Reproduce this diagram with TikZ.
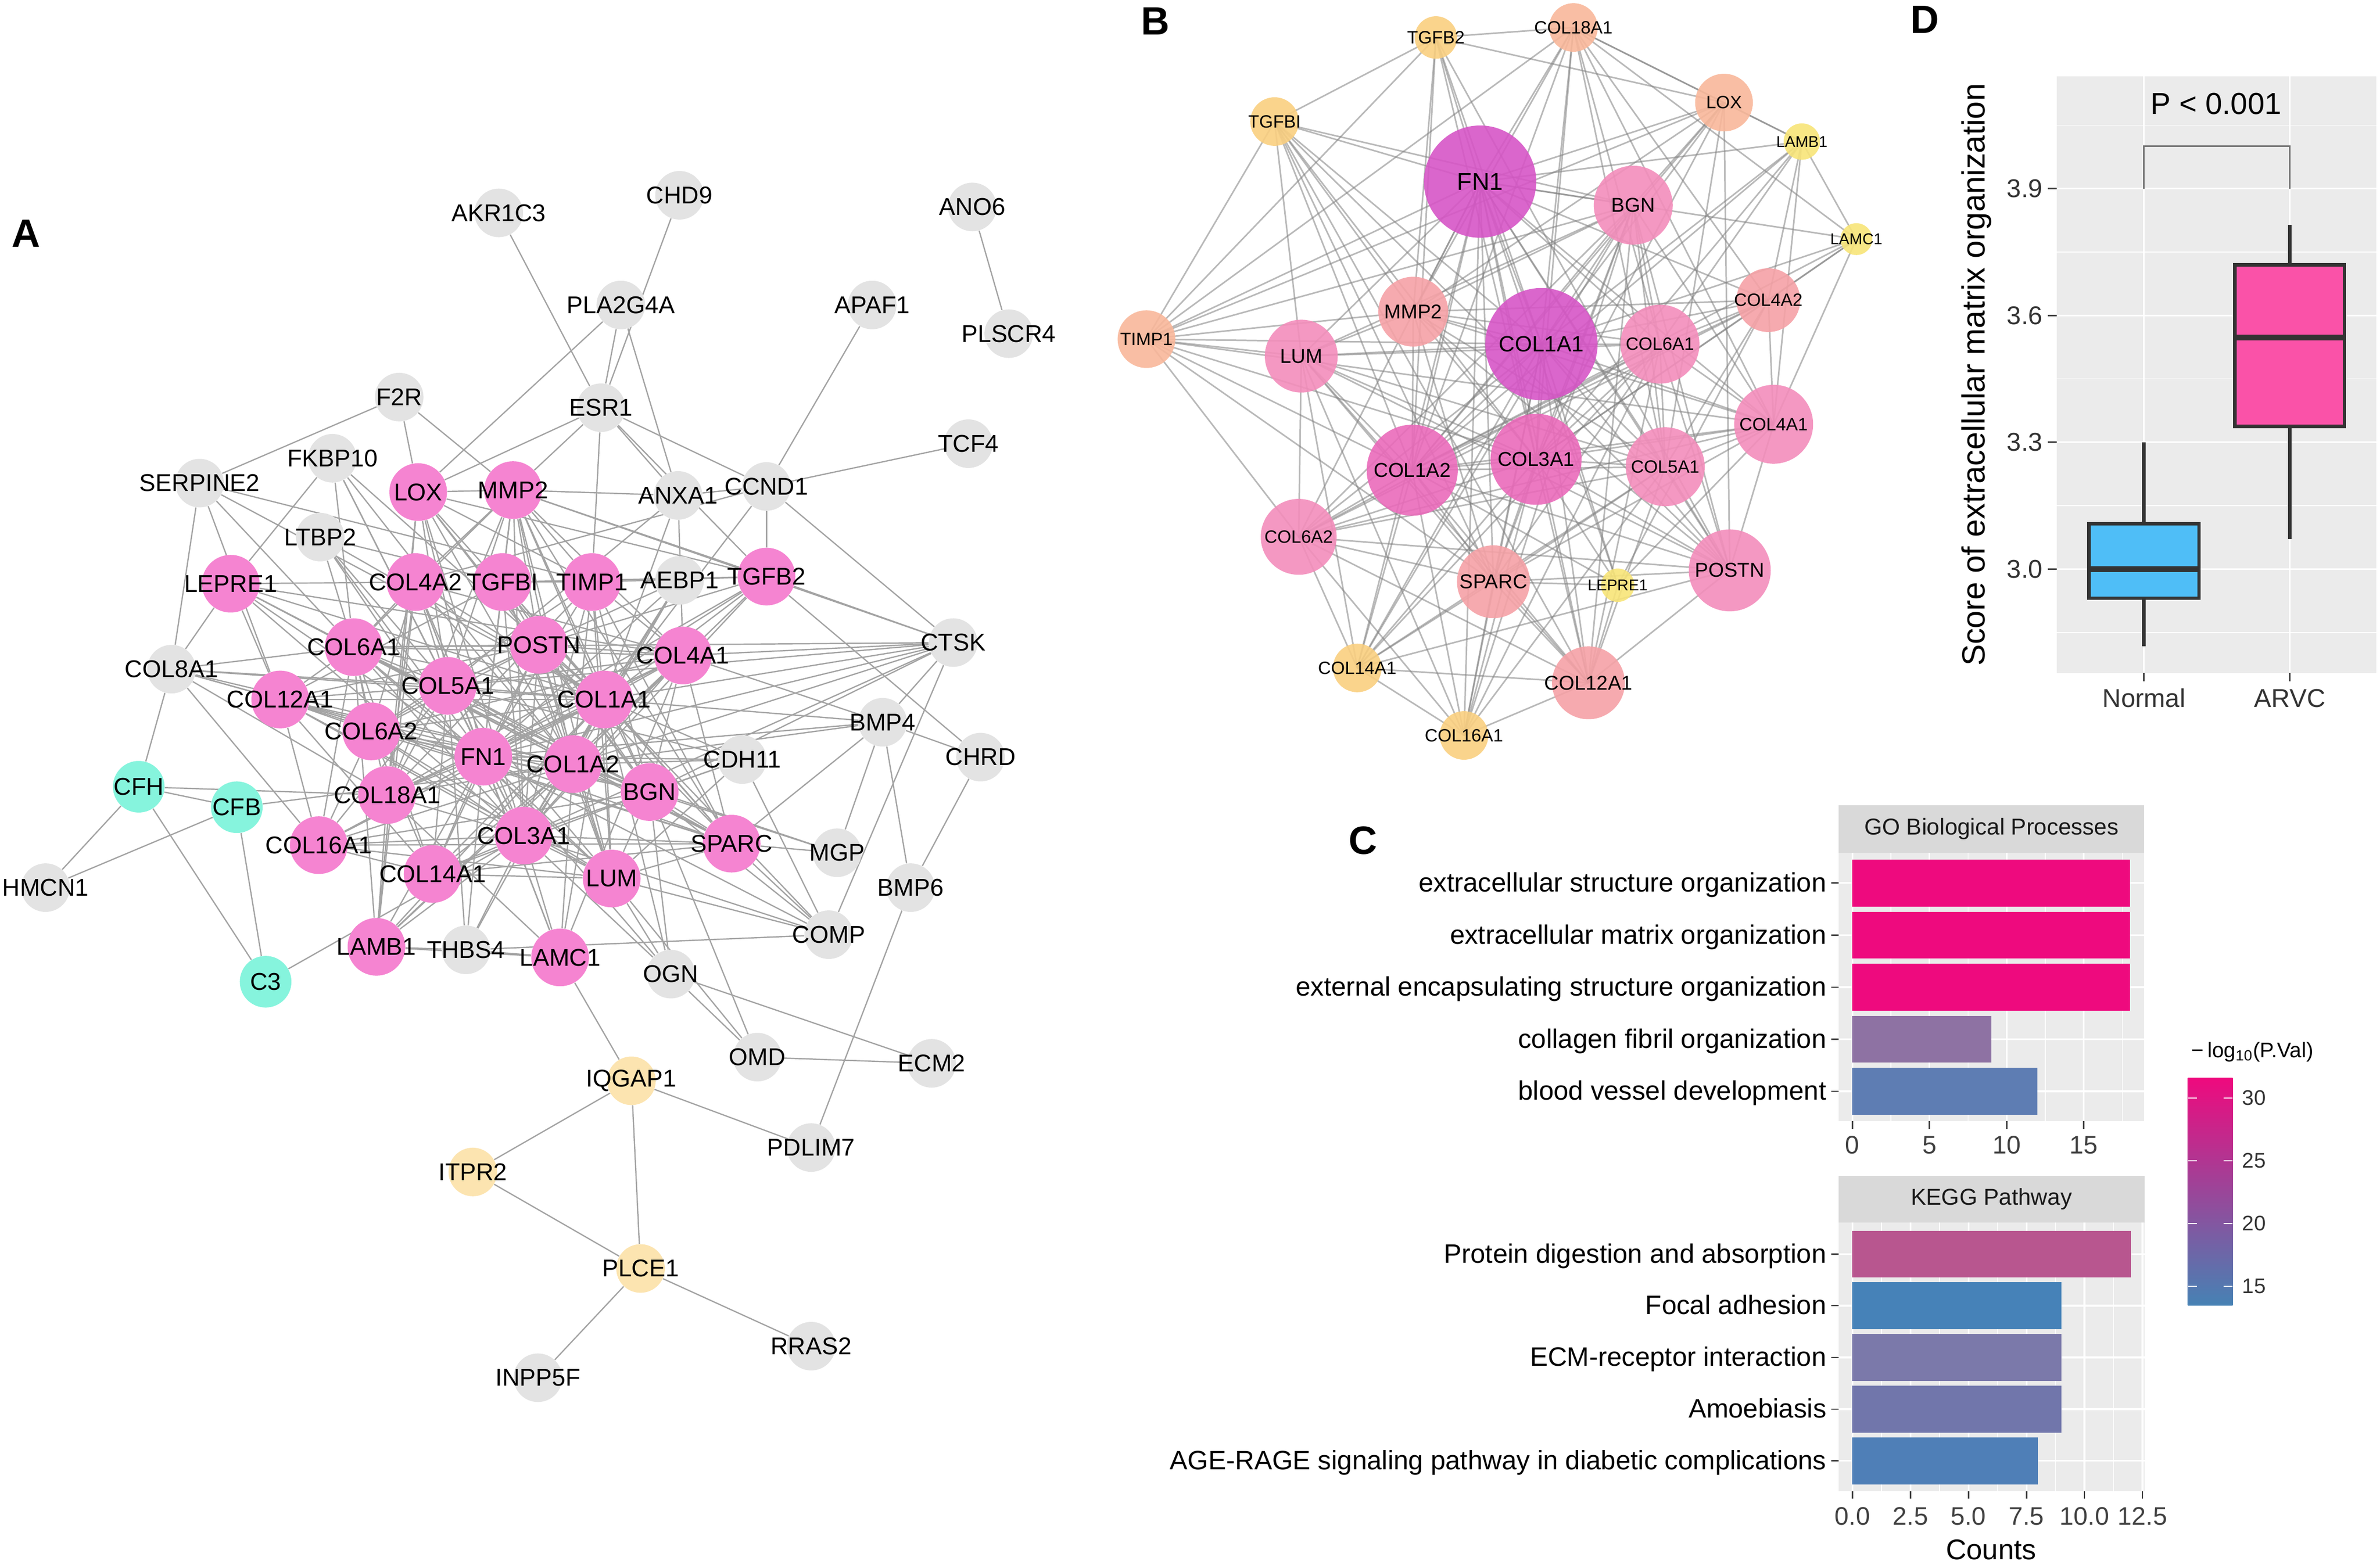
\documentclass[tikz,border=0pt]{standalone}
\usepackage{fontspec}
\setmainfont{Liberation Sans}
\usetikzlibrary{backgrounds}

% node colours
\definecolor{agray}{HTML}{E3E3E3}
\definecolor{apink}{HTML}{F584D1}
\definecolor{acyan}{HTML}{86F4DD}
\definecolor{apeach}{HTML}{FCE4B0}
\definecolor{bmag}{HTML}{D655C6}
\definecolor{bhot}{HTML}{EA6ABA}
\definecolor{bpink}{HTML}{F38DBB}
\definecolor{bsalmon}{HTML}{F5A1A6}
\definecolor{bpeach}{HTML}{F8B79A}
\definecolor{borange}{HTML}{F9CF80}
\definecolor{byellow}{HTML}{F7E478}
% plot colours
\definecolor{panelbg}{HTML}{EBEBEB}
\definecolor{stripbg}{HTML}{D9D9D9}
\definecolor{gopink}{HTML}{EE0A7E}
\definecolor{gopurple}{HTML}{8E72A3}
\definecolor{goblue}{HTML}{5E7DB3}
\definecolor{kgprotein}{HTML}{B8568F}
\definecolor{kgfocal}{HTML}{4682B8}
\definecolor{kgecm}{HTML}{7B79AA}
\definecolor{kgamoeb}{HTML}{7176AB}
\definecolor{kgage}{HTML}{4F7FB7}
\definecolor{legmid}{HTML}{9C66A0}
\definecolor{leglow}{HTML}{4682B4}
\definecolor{normalblue}{HTML}{4FBEF7}
\definecolor{arvcpink}{HTML}{FA52A8}
\definecolor{boxdark}{HTML}{333333}

% font sizes
\newcommand{\fsA}{\fontsize{13.2pt}{15pt}\selectfont}
\newcommand{\fsPanel}{\fontsize{21.5pt}{24pt}\selectfont\bfseries}
\newcommand{\fsBa}{\fontsize{13.2pt}{14pt}\selectfont}
\newcommand{\fsBb}{\fontsize{12pt}{13pt}\selectfont}
\newcommand{\fsBc}{\fontsize{10.9pt}{12pt}\selectfont}
\newcommand{\fsBd}{\fontsize{9.7pt}{11pt}\selectfont}
\newcommand{\fsBe}{\fontsize{8.5pt}{10pt}\selectfont}
\newcommand{\fsC}{\fontsize{14.5pt}{16pt}\selectfont}
\newcommand{\fsTick}{\fontsize{13.8pt}{15pt}\selectfont}
\newcommand{\fsStrip}{\fontsize{12.5pt}{14pt}\selectfont}
\newcommand{\fsCounts}{\fontsize{15.5pt}{17pt}\selectfont}
\newcommand{\fsLeg}{\fontsize{11.5pt}{13pt}\selectfont}
\newcommand{\fsDtick}{\fontsize{14pt}{16pt}\selectfont}
\newcommand{\fsDp}{\fontsize{16.5pt}{18pt}\selectfont}
\newcommand{\fsDtitle}{\fontsize{17.5pt}{19pt}\selectfont}

% interactions among the 25 hub genes (shared by A and B)
\def\coreedges{%
FN1/{COL1A1,COL1A2,COL3A1,BGN,COL6A1,COL5A1,COL4A1,POSTN,LUM,COL6A2,MMP2,SPARC,COL12A1,COL4A2,TIMP1,LOX,COL18A1,TGFB2,TGFBI,COL14A1,COL16A1,LAMB1,LAMC1,LEPRE1},%
COL1A1/{COL1A2,COL3A1,BGN,COL6A1,COL5A1,COL4A1,POSTN,LUM,COL6A2,MMP2,SPARC,COL12A1,COL4A2,TIMP1,LOX,COL18A1,TGFB2,TGFBI,COL14A1,COL16A1,LAMB1,LAMC1,LEPRE1},%
COL1A2/{COL3A1,BGN,COL6A1,COL5A1,COL4A1,POSTN,LUM,COL6A2,MMP2,SPARC,COL12A1,COL4A2,TIMP1,LOX,COL18A1,TGFB2,TGFBI,COL14A1,COL16A1,LAMB1,LAMC1,LEPRE1},%
COL3A1/{BGN,COL6A1,COL5A1,COL4A1,POSTN,LUM,COL6A2,MMP2,SPARC,COL12A1,COL4A2,TIMP1,LOX,COL18A1,TGFB2,TGFBI,COL14A1,COL16A1,LAMB1,LAMC1,LEPRE1},%
BGN/{COL6A1,COL5A1,COL4A1,POSTN,LUM,COL6A2,MMP2,SPARC,COL12A1,TIMP1,LOX,TGFBI,COL14A1,COL16A1},%
COL6A1/{COL5A1,COL4A1,POSTN,LUM,COL6A2,MMP2,SPARC,COL12A1,COL4A2,COL14A1,COL16A1,COL18A1,LAMB1},%
COL5A1/{COL4A1,POSTN,LUM,COL6A2,MMP2,SPARC,COL12A1,COL4A2,LOX,COL14A1,COL16A1,COL18A1},%
COL4A1/{COL4A2,POSTN,COL6A2,MMP2,SPARC,COL18A1,LAMB1,LAMC1,LEPRE1,TIMP1},%
POSTN/{LUM,COL6A2,MMP2,SPARC,COL12A1,TGFBI,TGFB2,LOX,COL14A1},%
LUM/{COL6A2,MMP2,SPARC,COL12A1,TIMP1,TGFBI,COL14A1,COL16A1},%
COL6A2/{SPARC,COL12A1,COL14A1,COL16A1,COL4A2,TIMP1},%
MMP2/{SPARC,TIMP1,TGFB2,TGFBI,COL4A2,COL18A1,LOX},%
SPARC/{COL12A1,TIMP1,TGFBI,COL14A1,COL16A1,LEPRE1},%
COL12A1/{COL14A1,COL16A1,LEPRE1,TGFBI},%
COL4A2/{COL18A1,LAMB1,LAMC1,LEPRE1},%
TIMP1/{TGFB2,TGFBI,COL18A1,LOX},%
LOX/{LAMB1,TGFB2,COL18A1},%
COL18A1/{LAMB1,LAMC1,TGFB2},%
TGFB2/{TGFBI},%
COL14A1/{COL16A1},%
LAMB1/{LAMC1}}

% interactions of the other genes in A
\def\otheredges{%
AKR1C3/ESR1,CHD9/ESR1,ANO6/PLSCR4,PLA2G4A/ESR1,PLA2G4A/LOX,PLA2G4A/ANXA1,%
APAF1/CCND1,TCF4/CCND1,ESR1/CCND1,ESR1/MMP2,ESR1/TIMP1,ESR1/ANXA1,ESR1/TGFB2,ESR1/LOX,%
F2R/SERPINE2,F2R/LOX,F2R/MMP2,FKBP10/LEPRE1,FKBP10/COL6A1,FKBP10/COL5A1,FKBP10/COL1A1,%
FKBP10/COL1A2,FKBP10/FN1,SERPINE2/COL12A1,SERPINE2/COL6A1,SERPINE2/TIMP1,SERPINE2/COL1A1,%
SERPINE2/COL8A1,MMP2/ANXA1,ANXA1/CCND1,CCND1/COL4A2,CCND1/COL1A1,CCND1/CTSK,CCND1/TGFB2,%
ANXA1/COL4A1,ANXA1/COL1A1,ANXA1/COL5A1,LTBP2/COL6A1,LTBP2/FN1,LTBP2/COL1A1,LTBP2/TGFBI,%
LTBP2/COL5A1,LTBP2/COL3A1,AEBP1/COL1A1,AEBP1/COL5A1,AEBP1/COL3A1,AEBP1/COL1A2,AEBP1/FN1,%
CTSK/COL1A1,CTSK/COL1A2,CTSK/COL4A1,CTSK/FN1,CTSK/BGN,CTSK/COL5A1,CTSK/MMP2,CTSK/BMP4,%
CTSK/COL6A1,CTSK/COMP,CTSK/TGFB2,CTSK/COL3A1,COL8A1/LEPRE1,COL8A1/COL12A1,COL8A1/COL6A1,%
COL8A1/COL5A1,COL8A1/FN1,COL8A1/COL1A1,COL8A1/CFH,COL8A1/COL16A1,COL8A1/COL18A1,COL8A1/COL1A2,%
BMP4/CHRD,BMP4/BMP6,BMP4/MGP,BMP4/COL1A1,BMP4/COL1A2,BMP4/COL4A1,BMP4/SPARC,BMP4/FN1,%
CHRD/BMP6,CHRD/TGFB2,CDH11/COL1A1,CDH11/COL1A2,CDH11/BGN,CDH11/COL5A1,CDH11/FN1,CDH11/COL3A1,%
CDH11/LUM,CDH11/COMP,MGP/SPARC,MGP/BGN,MGP/COL1A2,COMP/SPARC,COMP/COL1A1,COMP/COL3A1,%
COMP/BGN,COMP/LUM,COMP/FN1,OGN/LUM,OGN/BGN,OGN/COL3A1,OGN/OMD,OGN/ECM2,OGN/COL1A1,OGN/FN1,%
OMD/LUM,OMD/ECM2,OMD/BGN,PDLIM7/IQGAP1,PDLIM7/BMP6,IQGAP1/LAMC1,IQGAP1/ITPR2,IQGAP1/PLCE1,%
ITPR2/PLCE1,PLCE1/INPP5F,PLCE1/RRAS2,CFH/CFB,CFH/C3,CFB/C3,CFH/HMCN1,CFB/HMCN1,CFH/COL18A1,%
CFB/COL1A2,C3/COL3A1,THBS4/COL1A1,THBS4/COL3A1,THBS4/COL5A1,THBS4/LAMB1,THBS4/FN1,%
THBS4/COMP,THBS4/LAMC1}

\tikzset{
  zerotext/.style={execute at begin node={\hbox to 0pt\bgroup\hss}, execute at end node={\hss\egroup}},
  gnode/.style={circle, inner sep=0pt, minimum size=9.29mm, fill=agray, font=\fsA, zerotext},
  pnode/.style={gnode, fill=apink, minimum size=11.03mm},
  cnode/.style={gnode, fill=acyan, minimum size=9.87mm},
  onode/.style={gnode, fill=apeach},
  aedge/.style={draw=black!36, line width=0.7pt},
  bnode/.style={circle, inner sep=0pt, fill opacity=0.9, text opacity=1, zerotext},
  bedge/.style={draw=black!50, draw opacity=0.55, line width=0.85pt},
  panelletter/.style={font=\fsPanel, inner sep=0pt},
  gridmajor/.style={draw=white, line width=0.9pt},
  gridminor/.style={draw=white, line width=0.45pt},
  axtick/.style={draw=black!75, line width=0.8pt},
  txt/.style={inner sep=0pt},
  boxline/.style={draw=boxdark, line width=1.9pt}
}

\begin{document}
\begin{tikzpicture}[x=0.29018mm, y=-0.29018mm]
\useasboundingbox (0,0) rectangle (1568,1031.4);

% panel letters
\node[panelletter] (lblA) at (17,154) {A};
\node[panelletter] (lblB) at (761,14) {B};
\node[panelletter] (lblC) at (898,554) {C};
\node[panelletter] (lblD) at (1268,13) {D};

% ---------------- A: gray genes
\node[gnode] (a-AKR1C3) at (328.6,140.3) {AKR1C3};
\node[gnode] (a-CHD9) at (447.7,128.7) {CHD9};
\node[gnode] (a-ANO6) at (640.6,136.4) {ANO6};
\node[gnode] (a-PLA2G4A) at (409,201) {PLA2G4A};
\node[gnode] (a-APAF1) at (574.6,201) {APAF1};
\node[gnode] (a-PLSCR4) at (664.6,219.9) {PLSCR4};
\node[gnode] (a-F2R) at (263,261.7) {F2R};
\node[gnode] (a-ESR1) at (396,268.7) {ESR1};
\node[gnode] (a-TCF4) at (638,292.4) {TCF4};
\node[gnode] (a-FKBP10) at (219,302) {FKBP10};
\node[gnode] (a-SERPINE2) at (131.5,318.4) {SERPINE2};
\node[gnode] (a-ANXA1) at (446.7,326.5) {ANXA1};
\node[gnode] (a-CCND1) at (505,320.6) {CCND1};
\node[gnode] (a-LTBP2) at (211,354) {LTBP2};
\node[gnode] (a-AEBP1) at (447.7,382.5) {AEBP1};
\node[gnode] (a-CTSK) at (628,423.5) {CTSK};
\node[gnode] (a-COL8A1) at (113,441) {COL8A1};
\node[gnode] (a-BMP4) at (581.5,476) {BMP4};
\node[gnode] (a-CHRD) at (646,499) {CHRD};
\node[gnode] (a-CDH11) at (489,500.6) {CDH11};
\node[gnode] (a-MGP) at (551.5,562) {MGP};
\node[gnode] (a-HMCN1) at (30,585) {HMCN1};
\node[gnode] (a-BMP6) at (600,585) {BMP6};
\node[gnode] (a-COMP) at (546,616) {COMP};
\node[gnode] (a-THBS4) at (307,626) {THBS4};
\node[gnode] (a-OGN) at (442,642) {OGN};
\node[gnode] (a-OMD) at (499,696.7) {OMD};
\node[gnode] (a-ECM2) at (613.8,700.8) {ECM2};
\node[gnode] (a-PDLIM7) at (534.4,756.3) {PDLIM7};
\node[gnode] (a-RRAS2) at (534.4,887.2) {RRAS2};
\node[gnode] (a-INPP5F) at (354.4,908) {INPP5F};
% A: complement and signalling genes
\node[cnode] (a-CFH) at (91.4,518.5) {CFH};
\node[cnode] (a-CFB) at (156,532) {CFB};
\node[cnode] (a-C3) at (175,647) {C3};
\node[onode] (a-IQGAP1) at (416,712.3) {IQGAP1};
\node[onode] (a-ITPR2) at (311.5,772.4) {ITPR2};
\node[onode] (a-PLCE1) at (422,836) {PLCE1};
% A: hub genes
\node[pnode] (a-LOX) at (275.5,324.3) {LOX};
\node[pnode] (a-MMP2) at (338,323) {MMP2};
\node[pnode] (a-LEPRE1) at (152,384.7) {LEPRE1};
\node[pnode] (a-COL4A2) at (273.7,383.6) {COL4A2};
\node[pnode] (a-TGFBI) at (331,383.6) {TGFBI};
\node[pnode] (a-TIMP1) at (390,383.6) {TIMP1};
\node[pnode] (a-TGFB2) at (505,380) {TGFB2};
\node[pnode] (a-COL6A1) at (233,426.5) {COL6A1};
\node[pnode] (a-POSTN) at (355,425) {POSTN};
\node[pnode] (a-COL4A1) at (450,432) {COL4A1};
\node[pnode] (a-COL12A1) at (184.6,461) {COL12A1};
\node[pnode] (a-COL5A1) at (295,452) {COL5A1};
\node[pnode] (a-COL1A1) at (398,461) {COL1A1};
\node[pnode] (a-COL6A2) at (244.6,482) {COL6A2};
\node[pnode] (a-FN1) at (318.4,498.7) {FN1};
\node[pnode] (a-COL1A2) at (377.5,503.6) {COL1A2};
\node[pnode] (a-COL18A1) at (255,524) {COL18A1};
\node[pnode] (a-BGN) at (428,522) {BGN};
\node[pnode] (a-COL3A1) at (345,550.7) {COL3A1};
\node[pnode] (a-COL16A1) at (210,557) {COL16A1};
\node[pnode] (a-SPARC) at (482,556) {SPARC};
\node[pnode] (a-COL14A1) at (285,576) {COL14A1};
\node[pnode] (a-LUM) at (403,579) {LUM};
\node[pnode] (a-LAMB1) at (248,624) {LAMB1};
\node[pnode] (a-LAMC1) at (369,631) {LAMC1};

% ---------------- B: hub network
\node[bnode, fill=bmag, minimum size=21.47mm, font=\fsBa] (b-FN1) at (975.1,119.7) {FN1};
\node[bnode, fill=bmag, minimum size=21.47mm, font=\fsBb] (b-COL1A1) at (1015.5,226.8) {COL1A1};
\node[bnode, fill=bhot, minimum size=17.41mm, font=\fsBc] (b-COL1A2) at (930.4,309.9) {COL1A2};
\node[bnode, fill=bhot, minimum size=17.41mm, font=\fsBc] (b-COL3A1) at (1012,302.7) {COL3A1};
\node[bnode, fill=bpink, minimum size=15.09mm, font=\fsBc] (b-BGN) at (1076,135.2) {BGN};
\node[bnode, fill=bpink, minimum size=15.09mm, font=\fsBd] (b-COL6A1) at (1093.6,226.8) {COL6A1};
\node[bnode, fill=bpink, minimum size=15.09mm, font=\fsBd] (b-COL5A1) at (1097.1,307.6) {COL5A1};
\node[bnode, fill=bpink, minimum size=15.09mm, font=\fsBd] (b-COL4A1) at (1168.5,279.6) {COL4A1};
\node[bnode, fill=bpink, minimum size=15.67mm, font=\fsBc] (b-POSTN) at (1139.6,375.9) {POSTN};
\node[bnode, fill=bpink, minimum size=13.93mm, font=\fsBc] (b-LUM) at (857.3,234.7) {LUM};
\node[bnode, fill=bpink, minimum size=14.51mm, font=\fsBd] (b-COL6A2) at (855.6,353.8) {COL6A2};
\node[bnode, fill=bsalmon, minimum size=13.35mm, font=\fsBc] (b-MMP2) at (931.1,205.4) {MMP2};
\node[bnode, fill=bsalmon, minimum size=13.93mm, font=\fsBc] (b-SPARC) at (983.9,383.4) {SPARC};
\node[bnode, fill=bsalmon, minimum size=13.93mm, font=\fsBc] (b-COL12A1) at (1046.5,450) {COL12A1};
\node[bnode, fill=bsalmon, minimum size=12.19mm, font=\fsBd] (b-COL4A2) at (1165,197.8) {COL4A2};
\node[bnode, fill=bpeach, minimum size=11.03mm, font=\fsBd] (b-TIMP1) at (755.3,223.5) {TIMP1};
\node[bnode, fill=bpeach, minimum size=11.03mm, font=\fsBd] (b-LOX) at (1135.8,67.6) {LOX};
\node[bnode, fill=bpeach, minimum size=9.29mm, font=\fsBd] (b-COL18A1) at (1036.6,18.1) {COL18A1};
\node[bnode, fill=borange, minimum size=8.12mm, font=\fsBd] (b-TGFB2) at (946,24.7) {TGFB2};
\node[bnode, fill=borange, minimum size=9.29mm, font=\fsBd] (b-TGFBI) at (839.7,80.1) {TGFBI};
\node[bnode, fill=borange, minimum size=9.29mm, font=\fsBd] (b-COL14A1) at (894.2,440.2) {COL14A1};
\node[bnode, fill=borange, minimum size=9.29mm, font=\fsBd] (b-COL16A1) at (964.5,484.7) {COL16A1};
\node[bnode, fill=byellow, minimum size=6.96mm, font=\fsBe] (b-LAMB1) at (1187.1,93.3) {LAMB1};
\node[bnode, fill=byellow, minimum size=6.09mm, font=\fsBe] (b-LAMC1) at (1223,157.6) {LAMC1};
\node[bnode, fill=byellow, minimum size=6.38mm, font=\fsBe] (b-LEPRE1) at (1065.8,385.7) {LEPRE1};

% edges behind the nodes
\begin{scope}[on background layer]
\foreach \s/\tl in \coreedges {
  \foreach \t in \tl {
    \draw[aedge] (a-\s) -- (a-\t);
    \draw[bedge] (b-\s.center) -- (b-\t.center);
  }
}
\foreach \s/\t in \otheredges
  \draw[aedge] (a-\s) -- (a-\t);
\end{scope}

% ---------------- C: GO Biological Processes
\fill[stripbg] (1211.3,530.7) rectangle (1412.7,561.9);
\node[txt, font=\fsStrip, text=black!90] (go-strip) at (1312,546.3) {GO Biological Processes};
\fill[panelbg] (1211.3,561.9) rectangle (1412.7,739);
\foreach \v in {2.5,7.5,12.5,17.5}
  \draw[gridminor] ({1220.4+10.16*\v},561.9) -- ({1220.4+10.16*\v},739);
\foreach \v in {0,5,10,15}
  \draw[gridmajor] ({1220.4+10.16*\v},561.9) -- ({1220.4+10.16*\v},739);
\foreach \y in {582,616.3,650.6,684.9,719.2}
  \draw[gridmajor] (1211.3,\y) -- (1412.7,\y);
\foreach \y/\v/\c/\t [count=\i] in {582/18/gopink/extracellular structure organization,
    616.3/18/gopink/extracellular matrix organization,
    650.6/18/gopink/external encapsulating structure organization,
    684.9/9/gopurple/collagen fibril organization,
    719.2/12/goblue/blood vessel development} {
  \fill[\c] (1220.4,{\y-15.4}) rectangle ({1220.4+10.16*\v},{\y+15.4});
  \draw[axtick] (1206.4,\y) -- (1211.3,\y);
  \node[txt, anchor=base east, font=\fsC] (go-cat\i) at (1203.5,{\y+5.8}) {\t};
}
\foreach \v in {0,5,10,15} {
  \draw[axtick] ({1220.4+10.16*\v},739) -- ({1220.4+10.16*\v},744);
  \node[txt, anchor=base, font=\fsTick, text=black!75] (go-x\v) at ({1220.4+10.16*\v},760.5) {\v};
}

% C: KEGG Pathway
\fill[stripbg] (1211.2,775.1) rectangle (1413,805.6);
\node[txt, font=\fsStrip, text=black!90] (kegg-strip) at (1312,790.3) {KEGG Pathway};
\fill[panelbg] (1211.2,805.6) rectangle (1413,982.8);
\foreach \v in {1.25,3.75,6.25,8.75,11.25}
  \draw[gridminor] ({1220.4+15.29*\v},805.6) -- ({1220.4+15.29*\v},982.8);
\foreach \v in {0,2.5,5,7.5,10,12.5}
  \draw[gridmajor] ({1220.4+15.29*\v},805.6) -- ({1220.4+15.29*\v},982.8);
\foreach \y in {826.5,860.5,894.6,928.7,962.8}
  \draw[gridmajor] (1211.2,\y) -- (1413,\y);
\foreach \y/\v/\c/\t [count=\i] in {826.5/12/kgprotein/Protein digestion and absorption,
    860.5/9/kgfocal/Focal adhesion,
    894.6/9/kgecm/ECM-receptor interaction,
    928.7/9/kgamoeb/Amoebiasis,
    962.8/8/kgage/AGE-RAGE signaling pathway in diabetic complications} {
  \fill[\c] (1220.4,{\y-15.4}) rectangle ({1220.4+15.29*\v},{\y+15.4});
  \draw[axtick] (1206.4,\y) -- (1211.2,\y);
  \node[txt, anchor=base east, font=\fsC] (kegg-cat\i) at (1203.5,{\y+5.8}) {\t};
}
\foreach \v/\l [count=\i] in {0/0.0,2.5/2.5,5/5.0,7.5/7.5,10/10.0,12.5/12.5} {
  \draw[axtick] ({1220.4+15.29*\v},982.8) -- ({1220.4+15.29*\v},987.8);
  \node[txt, anchor=base, font=\fsTick, text=black!75] (kegg-x\i) at ({1220.4+15.29*\v},1005) {\l};
}
\node[txt, font=\fsCounts] (counts) at (1311.8,1021.5) {Counts};

% C: colour legend
\node[txt, font=\fsLeg] (leg-title) at (1484,693.4) {−\,log\textsubscript{10}(P.Val)};
\shade[top color=gopink, middle color=legmid, bottom color=leglow] (1441.4,710.5) rectangle (1470.9,860.4);
\foreach \v in {15,20,25,30} {
  \draw[white, line width=0.7pt] (1441.4,{723.6-8.27*(\v-30)}) -- (1447.3,{723.6-8.27*(\v-30)});
  \draw[white, line width=0.7pt] (1465,{723.6-8.27*(\v-30)}) -- (1470.9,{723.6-8.27*(\v-30)});
  \node[txt, anchor=base west, font=\fsLeg, text=black!80] (leg-\v) at (1477,{723.6-8.27*(\v-30)+4.8}) {\v};
}

% ---------------- D: box plot
\fill[panelbg] (1355.1,50.4) rectangle (1565.4,443.6);
\foreach \v in {2.85,3.15,3.45,3.75,4.05}
  \draw[gridminor] (1355.1,{375.1-278.7*(\v-3)}) -- (1565.4,{375.1-278.7*(\v-3)});
\foreach \v in {3.0,3.3,3.6,3.9}
  \draw[gridmajor] (1355.1,{375.1-278.7*(\v-3)}) -- (1565.4,{375.1-278.7*(\v-3)});
\draw[gridmajor] (1412.5,50.4) -- (1412.5,443.6);
\draw[gridmajor] (1508.6,50.4) -- (1508.6,443.6);
% Normal
\draw[boxline] (1412.5,291.6) -- (1412.5,345.2);
\draw[boxline] (1412.5,394.2) -- (1412.5,426.1);
\filldraw[boxline, fill=normalblue] (1376.1,345.2) rectangle (1448.7,394.2);
\draw[boxline, line width=3.2pt] (1376.1,375.1) -- (1448.7,375.1);
% ARVC
\draw[boxline] (1508.6,148.2) -- (1508.6,174.6);
\draw[boxline] (1508.6,281.1) -- (1508.6,355.3);
\filldraw[boxline, fill=arvcpink] (1472.4,174.6) rectangle (1544.6,281.1);
\draw[boxline, line width=3.2pt] (1472.4,222.5) -- (1544.6,222.5);
% significance bracket
\draw[black!55, line width=0.9pt] (1412.5,124.3) -- (1412.5,96.2) -- (1508.6,96.2) -- (1508.6,124.3);
\node[txt, font=\fsDp] (pval) at (1460,68.5) {P < 0.001};
% D axes
\foreach \v in {3.0,3.3,3.6,3.9} {
  \draw[axtick] (1349,{375.1-278.7*(\v-3)}) -- (1355.1,{375.1-278.7*(\v-3)});
  \node[txt, anchor=base east, font=\fsDtick, text=black!80] (d-y\v) at (1346,{375.1-278.7*(\v-3)+5.9}) {\v};
}
\draw[axtick] (1412.5,443.6) -- (1412.5,449);
\draw[axtick] (1508.6,443.6) -- (1508.6,449);
\node[txt, anchor=base, font=\fsDtick, text=black!80] (d-normal) at (1412.5,466) {Normal};
\node[txt, anchor=base, font=\fsDtick, text=black!80] (d-arvc) at (1508.6,466) {ARVC};
\node[txt, rotate=90, font=\fsDtitle] (d-title) at (1302,247) {Score of extracellular matrix organization};
\end{tikzpicture}
\end{document}
